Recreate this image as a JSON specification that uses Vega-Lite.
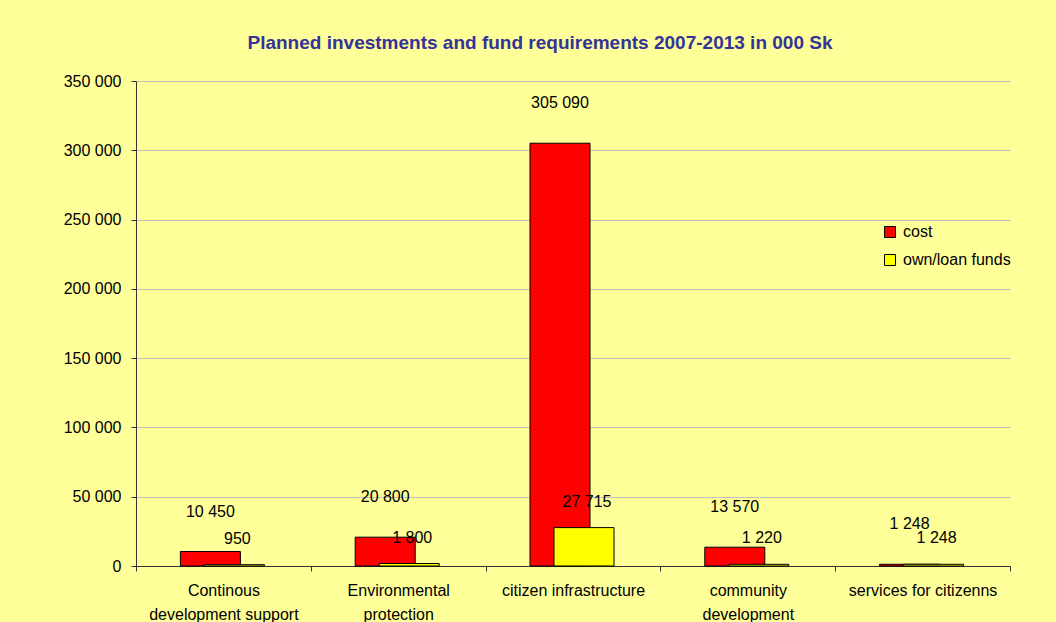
{
  "$schema": "https://vega.github.io/schema/vega-lite/v6.json",
  "width": 874,
  "height": 485,
  "autosize": "none",
  "padding": {"left": 136, "top": 81, "right": 46, "bottom": 56},
  "background": "#FFFF99",
  "config": {
    "font": "Liberation Sans",
    "locale": {"number": {"decimal": ".", "thousands": " ", "grouping": [3], "currency": ["", ""]}},
    "view": {"stroke": null}
  },
  "title": {
    "text": "Planned investments and fund requirements 2007-2013 in 000 Sk",
    "fontSize": 19,
    "fontWeight": "bold",
    "color": "#333399",
    "anchor": "middle",
    "dx": -33,
    "offset": 20
  },
  "data": {
    "values": [
      {"category": "Continous development support", "series": "cost", "value": 10450},
      {"category": "Continous development support", "series": "own/loan funds", "value": 950},
      {"category": "Environmental protection", "series": "cost", "value": 20800},
      {"category": "Environmental protection", "series": "own/loan funds", "value": 1800},
      {"category": "citizen infrastructure", "series": "cost", "value": 305090},
      {"category": "citizen infrastructure", "series": "own/loan funds", "value": 27715},
      {"category": "community development", "series": "cost", "value": 13570},
      {"category": "community development", "series": "own/loan funds", "value": 1220},
      {"category": "services for citizenns", "series": "cost", "value": 1248},
      {"category": "services for citizenns", "series": "own/loan funds", "value": 1248}
    ]
  },
  "encoding": {
    "x": {
      "field": "category",
      "type": "nominal",
      "sort": null,
      "scale": {
        "domain": ["Continous development support", "Environmental protection", "citizen infrastructure", "community development", "services for citizenns"],
        "paddingInner": 0,
        "paddingOuter": 0
      },
      "axis": {
        "title": null,
        "labelAngle": 0,
        "labelFontSize": 16,
        "labelColor": "#000000",
        "labelPadding": 11,
        "labelLineHeight": 24,
        "tickBand": "extent",
        "tickSize": 5,
        "tickColor": "#333333",
        "domainColor": "#333333",
        "grid": false,
        "labelExpr": "datum.value == 'Continous development support' ? ['Continous', 'development support'] : datum.value == 'Environmental protection' ? ['Environmental', 'protection'] : datum.value == 'community development' ? ['community', 'development'] : datum.value"
      }
    },
    "y": {
      "field": "value",
      "type": "quantitative",
      "scale": {"domain": [0, 350000], "nice": false},
      "axis": {
        "title": null,
        "values": [0, 50000, 100000, 150000, 200000, 250000, 300000, 350000],
        "format": ",d",
        "labelFontSize": 16,
        "labelColor": "#000000",
        "labelPadding": 10,
        "tickSize": 5,
        "tickColor": "#333333",
        "domainColor": "#333333",
        "grid": true,
        "gridColor": "#C0C0C0"
      }
    },
    "color": {
      "field": "series",
      "type": "nominal",
      "scale": {"domain": ["cost", "own/loan funds"], "range": ["#FF0000", "#FFFF00"]},
      "legend": {
        "title": null,
        "orient": "none",
        "legendX": 746,
        "legendY": 143,
        "symbolType": "square",
        "symbolSize": 121,
        "symbolStrokeColor": "#000000",
        "symbolStrokeWidth": 1,
        "labelFontSize": 16,
        "labelColor": "#000000",
        "labelOffset": 5,
        "rowPadding": 12,
        "padding": 0
      }
    }
  },
  "layer": [
    {
      "transform": [{"filter": "datum.series == 'cost'"}],
      "mark": {"type": "bar", "width": 60, "xOffset": -13, "stroke": "#000000", "strokeWidth": 1}
    },
    {
      "transform": [{"filter": "datum.series == 'own/loan funds'"}],
      "mark": {"type": "bar", "width": 60, "xOffset": 11, "stroke": "#000000", "strokeWidth": 1}
    },
    {
      "transform": [{"filter": "datum.series == 'cost'"}],
      "mark": {"type": "text", "xOffset": -13, "dy": -40, "fontSize": 16, "color": "#000000", "baseline": "middle"},
      "encoding": {"text": {"field": "value", "type": "quantitative", "format": ",d"}, "color": {"value": "#000000"}}
    },
    {
      "transform": [{"filter": "datum.series == 'own/loan funds'"}],
      "mark": {"type": "text", "xOffset": 14, "dy": -26, "fontSize": 16, "color": "#000000", "baseline": "middle"},
      "encoding": {"text": {"field": "value", "type": "quantitative", "format": ",d"}, "color": {"value": "#000000"}}
    }
  ]
}
